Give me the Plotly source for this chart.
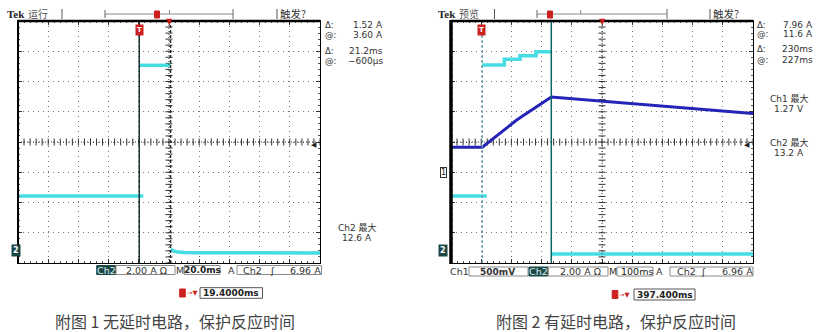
import numpy as np
import plotly.graph_objects as go

W, H = 825, 332
def fx(x): return x / W
def fy(y): return 1 - y / H

# ---------------- data ----------------
# Left scope: time in ms relative to screen centre (20 ms/div), Ch2 current in A (2 A/div)
l_ch2_pre_t = [-100, -17.0]
l_ch2_pre_a = [3.61, 3.61]
l_ch2_on_t = [-19.7, 1.1]
l_ch2_on_a = [12.25, 12.25]
l_ch2_off_t = [1.1, 3.0, 6.0, 10.0, 20.0, 60.0, 100.0]
l_ch2_off_a = [0.09, -0.03, -0.10, -0.13, -0.14, -0.15, -0.16]
l_cursor_solid = -19.7
l_cursor_dash = 1.1
l_trigger_t = -19.4
l_trigger_level = 6.96

# Right scope: time in ms relative to screen centre (100 ms/div)
r_ch2_pre_t = [-500, -381.8]
r_ch2_pre_a = [3.61, 3.61]
r_ch2_on_t = [-396.4, -323.5, -323.5, -271.5, -271.5, -218.5, -218.5, -167.9]
r_ch2_on_a = [12.27, 12.27, 12.65, 12.65, 12.89, 12.89, 13.15, 13.15]
r_ch2_off_t = [-167.9, 500]
r_ch2_off_a = [-0.22, -0.22]
r_ch1_t = [-500, -396.4, -282.5, -167.9, 500]
r_ch1_v = [0.42, 0.42, 0.87, 1.25, 0.98]
r_cursor_dash = -396.4
r_cursor_solid = -167.9
r_trigger_t = -397.4
r_trigger_level = 6.96

CH2_RANGE = [-0.82, 15.18]      # 8 div, ground at -3.59 div
CH1_RANGE = [-1.4925, 2.5075]   # 8 div, ground at -1.015 div

CYAN = '#46dce4'
BLUE = '#2424b8'
DARK = '#1d4747'
RED = '#cc2020'
FONT = 'DejaVu Sans, Noto Sans CJK SC'
CJK = 'Noto Sans CJK SC'

fig = go.Figure()

def line_trace(x, y, xa, ya, color, width=3.5):
    fig.add_trace(go.Scatter(x=x, y=y, xaxis=xa, yaxis=ya, mode='lines',
                             line=dict(color=color, width=width),
                             hoverinfo='skip', showlegend=False))

# centre cross tick marks
def centre_cross(xa, ya, xr, yr):
    xc = (xr[0] + xr[1]) / 2
    yc = (yr[0] + yr[1]) / 2
    xs = np.linspace(xr[0], xr[1], 51)
    ys = np.linspace(yr[0], yr[1], 41)
    fig.add_shape(type='line', xref=xa, yref=ya, x0=xr[0], x1=xr[1], y0=yc, y1=yc,
                  line=dict(color='#333', width=1, dash='1px,2px'))
    fig.add_shape(type='line', xref=xa, yref=ya, x0=xc, x1=xc, y0=yr[0], y1=yr[1],
                  line=dict(color='#333', width=1, dash='1px,2px'))
    fig.add_trace(go.Scatter(x=xs, y=[yc] * len(xs), xaxis=xa, yaxis=ya, mode='markers',
                             marker=dict(symbol='line-ns', size=5, line=dict(color='#333', width=1)),
                             hoverinfo='skip', showlegend=False))
    fig.add_trace(go.Scatter(x=[xc] * len(ys), y=ys, xaxis=xa, yaxis=ya, mode='markers',
                             marker=dict(symbol='line-ew', size=5, line=dict(color='#333', width=1)),
                             hoverinfo='skip', showlegend=False))

centre_cross('x', 'y', [-100, 100], CH2_RANGE)
centre_cross('x2', 'y2', [-500, 500], CH2_RANGE)

# cursors
fig.add_shape(type='line', xref='x', yref='y domain', x0=l_cursor_solid, x1=l_cursor_solid, y0=0, y1=1,
              line=dict(color='#173333', width=1.5))
fig.add_shape(type='line', xref='x', yref='y domain', x0=l_cursor_dash, x1=l_cursor_dash, y0=0, y1=1,
              line=dict(color='#222', width=1.2, dash='3px,2px'))
fig.add_shape(type='line', xref='x2', yref='y2 domain', x0=r_cursor_dash, x1=r_cursor_dash, y0=0, y1=1,
              line=dict(color='#5f9fb0', width=1.2, dash='3px,2px'))
fig.add_shape(type='line', xref='x2', yref='y2 domain', x0=r_cursor_solid, x1=r_cursor_solid, y0=0, y1=1,
              line=dict(color='#0e6464', width=1.5))

# traces
line_trace(l_ch2_pre_t, l_ch2_pre_a, 'x', 'y', CYAN)
line_trace(l_ch2_on_t, l_ch2_on_a, 'x', 'y', CYAN)
line_trace(l_ch2_off_t, l_ch2_off_a, 'x', 'y', CYAN)
line_trace(r_ch1_t, r_ch1_v, 'x2', 'y3', BLUE, 3)
line_trace(r_ch2_pre_t, r_ch2_pre_a, 'x2', 'y2', CYAN)
line_trace(r_ch2_on_t, r_ch2_on_a, 'x2', 'y2', CYAN)
line_trace(r_ch2_off_t, r_ch2_off_a, 'x2', 'y2', CYAN)

# axes
def ax(domain, rng, dt, mdt, anchor):
    return dict(domain=domain, range=rng, anchor=anchor, tick0=rng[0], dtick=dt,
                showticklabels=False, showline=True, linecolor='black', linewidth=1,
                mirror='ticks', ticks='inside', ticklen=4, tickcolor='#333', tickwidth=1,
                showgrid=True, gridcolor='#777', griddash='1px,4px', gridwidth=1,
                zeroline=False, fixedrange=True,
                minor=dict(ticks='inside', ticklen=2, tickcolor='#555', dtick=mdt, tick0=rng[0], showgrid=False))

ydom = [fy(263), fy(21)]
fig.update_layout(
    width=W, height=H, margin=dict(l=0, r=0, t=0, b=0),
    paper_bgcolor='white', plot_bgcolor='white', showlegend=False,
    xaxis=ax([fx(18), fx(320)], [-100, 100], 20, 4, 'y'),
    yaxis=ax(ydom, CH2_RANGE, 2, 0.4, 'x'),
    xaxis2=ax([fx(451), fx(753)], [-500, 500], 100, 20, 'y2'),
    yaxis2=ax(ydom, CH2_RANGE, 2, 0.4, 'x2'),
    yaxis3=dict(overlaying='y2', range=CH1_RANGE, visible=False, fixedrange=True, anchor='x2'),
)

def pline(x0, y0, x1, y1, color='#666', width=1, dash=None):
    fig.add_shape(type='line', xref='paper', yref='paper', x0=fx(x0), x1=fx(x1), y0=fy(y0), y1=fy(y1),
                  line=dict(color=color, width=width, dash=dash))

def prect(x0, y0, x1, y1, line='#8a8a8a', fill=None, lw=1):
    fig.add_shape(type='rect', xref='paper', yref='paper', x0=fx(x0), x1=fx(x1), y0=fy(y0), y1=fy(y1),
                  line=dict(color=line, width=lw), fillcolor=fill, layer='above')

def txt(x, y, s, size=10, color='#222', anchor='left', family=FONT, bg=None, border=None):
    fig.add_annotation(x=fx(x), y=fy(y), xref='paper', yref='paper', text=s, showarrow=False,
                       xanchor=anchor, yanchor='middle', font=dict(size=size, color=color, family=family),
                       bgcolor=bg, bordercolor=border, borderwidth=1 if border else 0, borderpad=0)

# thick frame parts
pline(18, 21, 320, 21, 'black', 2.5)
pline(18, 21, 18, 263, 'black', 2)
pline(451, 21, 753, 21, 'black', 2.5)
pline(451, 20, 451, 264, 'black', 3.5)

# ---------- top bars ----------
for (x0, tekname, sep1, b0, b1, bmid, tpos, sep2) in [
        (6.5, '运行', 62, 105, 233, 169.5, 157, 277),
        (438, '预览', 494.5, 537, 667, 580.7, 550, 710)]:
    txt(x0, 14, '<b>Tek</b>', 11, '#222', family='Liberation Serif')
    txt(x0 + 21, 14, tekname, 10, '#555', family=CJK)
    pline(sep1, 9, sep1, 19, '#555', 1)
    pline(sep2, 9, sep2, 19, '#555', 1)
    pline(b0, 14, b1, 14, '#888', 1)
    pline(b0, 10, b0, 18, '#666', 1)
    pline(b1, 9, b1, 19, '#666', 1)
    pline(bmid, 10, bmid, 14, '#888', 1)
    prect(tpos - 2.5, 11, tpos + 2.5, 18, line=RED, fill=RED)
    txt(sep2 + 3, 14, '触发?', 10.5, '#333', family=CJK)

# red markers in the plots
for xa, t, c in [('x', l_trigger_t, 0), ('x2', r_trigger_t, 0)]:
    fig.add_annotation(x=t, xref=xa, y=fy(30), yref='paper', text='<b>T</b>', showarrow=False,
                       font=dict(size=7, color='white', family=FONT), bgcolor=RED, borderpad=1,
                       xanchor='center', yanchor='middle')
    fig.add_annotation(x=c, xref=xa, y=fy(21.5), yref='paper', text='▼', showarrow=False,
                       font=dict(size=8, color=RED, family=FONT), xanchor='center', yanchor='middle')

# trigger level arrows
fig.add_annotation(x=1, xref='x domain', y=l_trigger_level, yref='y', text='◀', showarrow=False,
                   font=dict(size=7, color='#222', family=FONT), xanchor='right', yanchor='middle', xshift=-1)
fig.add_annotation(x=1, xref='x2 domain', y=r_trigger_level, yref='y2', text='◀', showarrow=False,
                   font=dict(size=7, color='#222', family=FONT), xanchor='right', yanchor='middle', xshift=-1)

# ground markers
fig.add_annotation(x=fx(10.5), xref='paper', y=0, yref='y', text='<b>2</b>', showarrow=False,
                   font=dict(size=8, color='white', family=FONT), bgcolor=DARK, borderpad=1)
fig.add_annotation(x=fx(443), xref='paper', y=0, yref='y2', text='<b>2</b>', showarrow=False,
                   font=dict(size=8, color='white', family=FONT), bgcolor=DARK, borderpad=1)
fig.add_annotation(x=fx(443), xref='paper', y=0, yref='y3', text='1', showarrow=False,
                   font=dict(size=8, color='#222', family=FONT), bgcolor='white',
                   bordercolor='#333', borderwidth=1, borderpad=0)

# ---------- readouts ----------
RS = 8.5
for (xl, xr, rows) in [
        (325, 382.5, [(24.5, 'Δ:', '1.52 A'), (35, '@:', '3.60 A'), (50.5, 'Δ:', '21.2ms'), (60.5, '@:', '−600µs')]),
        (757, 813, [(24.5, 'Δ:', '7.96 A'), (34.5, '@:', '11.6 A'), (49.5, 'Δ:', '230ms'), (59.5, '@:', '227ms')])]:
    for (y, lab, val) in rows:
        txt(xl, y, lab, RS, '#333')
        txt(xr, y, val, 9, '#333', anchor='right')

txt(357, 227.5, 'Ch2 最大', 9, '#333', anchor='center')
txt(357, 238, '12.6 A', 9, '#333', anchor='center')
txt(789, 98.5, 'Ch1 最大', 9, '#333', anchor='center')
txt(789, 109, '1.27 V', 9, '#333', anchor='center')
txt(789, 142.5, 'Ch2 最大', 9, '#333', anchor='center')
txt(789, 153, '13.2 A', 9, '#333', anchor='center')

# ---------- bottom bars ----------
BS = 9.5
# left
yb = 270
prect(96.7, 265.5, 115.5, 274.5, line=DARK, fill=DARK)
txt(106, yb, 'Ch2', BS, '#d8f2f2', anchor='center')
prect(116, 265.5, 175, 274.5)
txt(146, yb, '2.00 A Ω', BS, '#333', anchor='center')
txt(180, yb, 'M', BS, '#333', anchor='center')
prect(184.3, 265.5, 220, 274.5)
txt(202, yb, '<b>20.0ms</b>', 9, '#222', anchor='center')
txt(232, yb, 'A', BS, '#333', anchor='center')
prect(237, 265.5, 321.5, 274.5)
txt(252.5, yb, 'Ch2', BS, '#333', anchor='center')
txt(272.5, yb, 'ʃ', BS, '#333', anchor='center')
txt(320.5, yb, '6.96 A', BS, '#333', anchor='right')

# right
yb2 = 271.5
txt(459, yb2, 'Ch1', BS, '#333', anchor='center')
prect(469, 267, 528, 276)
txt(480, yb2, '<b>500mV</b>', 9, '#333')
prect(529, 267, 548, 276, line=DARK, fill=DARK)
txt(538.5, yb2, 'Ch2', BS, '#d8f2f2', anchor='center')
prect(548, 267, 608, 276)
txt(580, yb2, '2.00 A Ω', BS, '#333', anchor='center')
txt(612.5, yb2, 'M', BS, '#333', anchor='center')
prect(617, 267, 653, 276)
txt(636.5, yb2, '100ms', BS, '#222', anchor='center')
txt(659, yb2, 'A', BS, '#333', anchor='center')
prect(670, 267, 753, 276)
txt(686.5, yb2, 'Ch2', BS, '#333', anchor='center')
txt(703, yb2, 'ʃ', BS, '#333', anchor='center')
txt(752.5, yb2, '6.96 A', BS, '#333', anchor='right')

# trigger offset boxes
for (tx, y0, y1, bx0, bx1, s) in [(182.5, 287.7, 298.3, 200, 262.5, '19.4000ms'),
                                   (615, 289, 300, 634, 695, '397.400ms')]:
    ym = (y0 + y1) / 2
    prect(tx - 2.8, ym - 4, tx + 2.8, ym + 4, line=RED, fill=RED)
    txt(tx + 4, ym, '→▼', 6.5, RED)
    prect(bx0, y0, bx1, y1, line='#555')
    txt(bx0 + 2.5, ym, '<b>' + s + '</b>', 9, '#222')

# captions
txt(55, 320.5, '附图 1 无延时电路，保护反应时间', 16, '#444', family=CJK)
txt(496, 320.5, '附图 2 有延时电路，保护反应时间', 16, '#444', family=CJK)

fig.write_html('out.html')
